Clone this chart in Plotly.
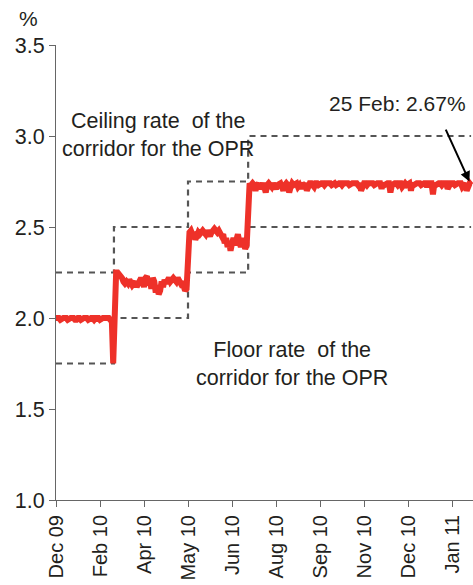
import plotly.graph_objects as go

# ---- data (daily observations, business-day index) ----
tick_labels = ["Dec 09", "Feb 10", "Apr 10", "May 10", "Jun 10",
               "Aug 10", "Sep 10", "Nov 10", "Dec 10", "Jan 11"]
tick_step = 30

rate_seg1 = [2.00, 2.00, 2.00, 1.99, 2.00, 2.00, 2.00, 2.00, 1.99, 2.00,
             2.00, 2.00, 2.00, 1.99, 1.99, 2.00, 2.00, 1.99, 2.00, 2.00,
             2.00, 2.00, 1.99, 2.00, 2.00, 2.00, 1.99, 2.00, 2.00, 2.00,
             1.99, 2.00, 2.00, 2.00, 2.00, 2.00, 2.00, 1.99, 2.00, 1.75]
rate_seg2 = [2.23, 2.25, 2.25, 2.24, 2.24, 2.22, 2.20, 2.19, 2.20, 2.19,
             2.21, 2.20, 2.18, 2.19, 2.20, 2.17, 2.19, 2.21, 2.22, 2.20,
             2.17, 2.22, 2.23, 2.18, 2.21, 2.16, 2.22, 2.20, 2.14, 2.18,
             2.13, 2.15, 2.20, 2.17, 2.21, 2.19, 2.21, 2.22, 2.20, 2.21,
             2.22, 2.21, 2.20, 2.22, 2.21, 2.19, 2.20, 2.17, 2.15, 2.16]
rate_seg3 = [2.44, 2.47, 2.48, 2.46, 2.47, 2.43, 2.45, 2.47, 2.46, 2.47,
             2.48, 2.47, 2.46, 2.48, 2.47, 2.45, 2.47, 2.48, 2.49, 2.48,
             2.47, 2.48, 2.47, 2.45, 2.46, 2.41, 2.44, 2.39, 2.42, 2.37,
             2.41, 2.44, 2.40, 2.43, 2.46, 2.42, 2.39, 2.44, 2.40, 2.38,
             2.40]
rate_seg4 = [2.72, 2.74, 2.73, 2.74, 2.73, 2.70, 2.73, 2.74, 2.71, 2.73,
             2.74, 2.72, 2.69, 2.73, 2.74, 2.73, 2.72, 2.74, 2.73, 2.71,
             2.73, 2.74, 2.74, 2.72, 2.70, 2.73, 2.74, 2.73, 2.69, 2.72,
             2.74, 2.73, 2.74, 2.74, 2.72, 2.73, 2.71, 2.74, 2.73, 2.74,
             2.70, 2.73, 2.74, 2.74, 2.73, 2.72, 2.74, 2.74, 2.73, 2.74,
             2.74, 2.74, 2.73, 2.74, 2.74, 2.74, 2.74, 2.73, 2.74, 2.74,
             2.73, 2.74, 2.74, 2.74, 2.73, 2.74, 2.74, 2.74, 2.74, 2.73,
             2.74, 2.74, 2.74, 2.74, 2.74, 2.73, 2.74, 2.70, 2.74, 2.74,
             2.74, 2.73, 2.74, 2.74, 2.74, 2.74, 2.73, 2.74, 2.74, 2.74,
             2.74, 2.71, 2.74, 2.73, 2.74, 2.74, 2.74, 2.69, 2.73, 2.74,
             2.74, 2.74, 2.73, 2.74, 2.74, 2.72, 2.74, 2.74, 2.73, 2.74,
             2.74, 2.70, 2.74, 2.73, 2.74, 2.74, 2.74, 2.74, 2.73, 2.74,
             2.74, 2.74, 2.72, 2.74, 2.74, 2.74, 2.68, 2.74, 2.73, 2.74,
             2.74, 2.74, 2.73, 2.74, 2.74, 2.74, 2.71, 2.74, 2.74, 2.74,
             2.74, 2.73, 2.74, 2.74, 2.74, 2.74, 2.72, 2.74, 2.74, 2.70,
             2.73, 2.74, 2.73]

# OPR decisions: index at which each new rate applies, and the rate
opr_change_idx = [0, 39.5, 90, 131]
opr_level = [2.00, 2.25, 2.50, 2.75]
corridor_half_width = 0.25

rate = rate_seg1 + rate_seg2 + rate_seg3 + rate_seg4
idx = list(range(len(rate)))
last_idx = idx[-1]

# corridor step lines built from the decisions
step_x = opr_change_idx + [last_idx]
ceiling = [v + corridor_half_width for v in opr_level] + [opr_level[-1] + corridor_half_width]
floor_ = [v - corridor_half_width for v in opr_level] + [opr_level[-1] - corridor_half_width]

fig = go.Figure()
dash_style = dict(color="#555555", width=2.2, dash="6px,5px")
fig.add_trace(go.Scatter(x=step_x, y=ceiling, mode="lines", line=dict(shape="hv", **dash_style),
                         hoverinfo="skip", showlegend=False))
fig.add_trace(go.Scatter(x=step_x, y=floor_, mode="lines", line=dict(shape="hv", **dash_style),
                         hoverinfo="skip", showlegend=False))
fig.add_trace(go.Scatter(x=idx, y=rate, mode="lines",
                         line=dict(color="#EE3129", width=6), showlegend=False))

font_family = "Liberation Sans, Arial, sans-serif"
txt_color = "#231F20"

fig.update_layout(
    width=473, height=585,
    margin=dict(l=56, r=0, t=45, b=85, autoexpand=False),
    paper_bgcolor="white", plot_bgcolor="white",
    font=dict(family=font_family, size=21, color=txt_color),
    xaxis=dict(
        range=[0, 284.3],
        automargin=False,
        tickmode="array",
        tickvals=[i * tick_step for i in range(len(tick_labels))],
        ticktext=tick_labels,
        tickangle=-90,
        ticks="outside", ticklen=6, tickcolor="#666666", tickwidth=1,
        showline=True, linecolor="#666666", linewidth=1,
        showgrid=False, zeroline=False,
        tickfont=dict(size=20, color=txt_color),
    ),
    yaxis=dict(
        range=[1.0, 3.5],
        automargin=False,
        tickmode="array",
        tickvals=[1.0, 1.5, 2.0, 2.5, 3.0, 3.5],
        ticktext=["1.0", "1.5", "2.0", "2.5", "3.0", "3.5"],
        ticks="outside", ticklen=6, tickcolor="#666666", tickwidth=1,
        showline=True, linecolor="#666666", linewidth=1,
        showgrid=False, zeroline=False,
        tickfont=dict(size=21.5, color=txt_color),
    ),
    annotations=[
        dict(text="%", xref="paper", yref="paper", x=-0.065, y=1.058,
             showarrow=False, font=dict(size=21), xanchor="center", yanchor="middle"),
        dict(text="Ceiling rate  of the<br>corridor for the OPR", xref="paper", yref="paper",
             x=0.2446, y=0.803, showarrow=False, xanchor="center", yanchor="middle",
             font=dict(size=21.5)),
        dict(text="Floor rate  of the<br>corridor for the OPR", xref="paper", yref="paper",
             x=0.566, y=0.299, showarrow=False, xanchor="center", yanchor="middle",
             font=dict(size=21.5)),
        dict(text="25 Feb: 2.67%", xref="paper", yref="paper",
             x=0.82, y=0.8725, showarrow=False, xanchor="center", yanchor="middle",
             font=dict(size=21)),
        dict(text="", x=last_idx, y=rate[-1], xref="x", yref="y",
             showarrow=True, arrowhead=2, arrowsize=1, arrowwidth=2, arrowcolor="#000000",
             ax=-26, ay=-57, standoff=4),
    ],
)

fig.write_html("out.html",
               config={"displayModeBar": False},
               post_script="document.body.style.margin='0';document.body.style.overflow='hidden';")
